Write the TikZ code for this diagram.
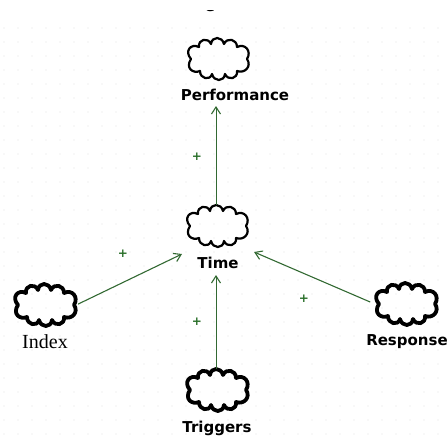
\documentclass[tikz,border=0pt]{standalone}
\usepackage{fontspec}
\setmainfont{DejaVu Sans}
\newfontfamily\serlbl{Liberation Serif}
\usetikzlibrary{calc,arrows.meta}
\definecolor{edgegreen}{RGB}{50,105,50}
\definecolor{plusgreen}{RGB}{40,110,40}
\newcommand\drawcloudshape[2]{%
  \begin{scope}[shift={(#1.center)}]
  \draw[line width=#2, line join=round]
    (-27pt,0pt)
    .. controls (-33pt,-9pt) and (-25pt,-15pt) .. (-18pt,-12pt)
    .. controls (-18pt,-20pt) and (-8pt,-22pt) .. (-6pt,-15pt)
    .. controls (-4pt,-23pt) and (6pt,-23pt) .. (7pt,-15pt)
    .. controls (10pt,-22pt) and (20pt,-20pt) .. (19pt,-12pt)
    .. controls (27pt,-15pt) and (34pt,-7pt) .. (29pt,0pt)
    .. controls (34pt,8pt) and (27pt,16pt) .. (19pt,12pt)
    .. controls (19pt,20pt) and (9pt,22pt) .. (6pt,15pt)
    .. controls (4pt,23pt) and (-6pt,23pt) .. (-7pt,15pt)
    .. controls (-10pt,22pt) and (-20pt,20pt) .. (-19pt,12pt)
    .. controls (-27pt,16pt) and (-34pt,8pt) .. (-27pt,0pt)
    -- cycle;
  \end{scope}%
}
\begin{document}
\begin{tikzpicture}[x=1pt,y=-1pt,
  cloudbox/.style={draw=none, rectangle, minimum width=62pt, minimum height=42pt, inner sep=0pt},
  lbl/.style={font=\bfseries\fontsize{15}{18}\selectfont, inner sep=1pt},
  serl/.style={font=\serlbl\fontsize{20}{22}\selectfont, inner sep=1pt},
  edge/.style={draw=edgegreen, line width=1.1pt, -{Straight Barb[length=7pt,width=9pt,line width=1.1pt]}},
  vedge/.style={edge, line width=0.9pt},
  plus/.style={text=plusgreen, font=\bfseries\fontsize{12}{12}\selectfont, inner sep=0pt}]
\useasboundingbox (0,0) rectangle (448,437);
% faint dotted background
\foreach \gx in {4,18,...,446} {
  \foreach \gy in {28,42,...,436} {
    \fill[black!12] (\gx,\gy) circle (0.6pt);
  }
}
% clipped fragment at the top
\begin{scope}
  \clip (190,10) rectangle (240,30);
  \node[lbl] (frag) at (210,7) {e};
\end{scope}
% clouds
\node[cloudbox] (perf) at (218,59) {};
\drawcloudshape{perf}{2.2pt}
\node[lbl, anchor=base] (perfl) at (235,100) {Performance};
\node[cloudbox] (time) at (217,226) {};
\drawcloudshape{time}{2.2pt}
\node[lbl, anchor=base] (timel) at (218,268) {Time};
\node[cloudbox] (idx) at (45,305) {};
\drawcloudshape{idx}{3.8pt}
\node[serl, anchor=base] (idxl) at (45,348) {Index};
\node[cloudbox] (resp) at (406,304) {};
\drawcloudshape{resp}{3.8pt}
\node[lbl, anchor=base] (respl) at (407,345) {Response};
\node[cloudbox] (trig) at (217,390) {};
\drawcloudshape{trig}{3.8pt}
\node[lbl, anchor=base] (trigl) at (217,432) {Triggers};
% connector end points
\coordinate (perfin) at (216,106);
\coordinate (timeinS) at (216,275);
\coordinate (timeinW) at (182,254);
\coordinate (timeinE) at (254,252);
% connectors
\draw[vedge] (time.north -| perfin) -- (perfin);
\draw[vedge] (trig.north -| timeinS) -- (timeinS);
\draw[edge, shorten <=2pt] (idx.east) -- (timeinW);
\draw[edge, shorten <=5pt] (resp.west) -- (timeinE);
% plus labels
\node[plus] (p1) at (197,157) {+};
\node[plus] (p2) at (123,254) {+};
\node[plus] (p3) at (197,322) {+};
\node[plus] (p4) at (304,299) {+};
\end{tikzpicture}
\end{document}
